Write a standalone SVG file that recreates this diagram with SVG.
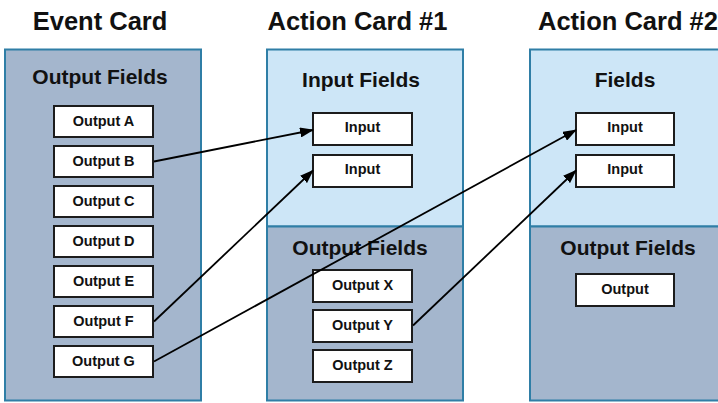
<svg xmlns="http://www.w3.org/2000/svg" width="718" height="403" viewBox="0 0 718 403">
<style>
.title{font-family:"Liberation Sans",Arial,sans-serif;font-weight:bold;font-size:25.5px;fill:#111;text-anchor:middle}
.head{font-family:"Liberation Sans",Arial,sans-serif;font-weight:bold;font-size:21px;fill:#111;text-anchor:middle}
.lbl{font-family:"Liberation Sans",Arial,sans-serif;font-weight:bold;font-size:14.5px;fill:#111;text-anchor:middle}
.dark{fill:#a4b6cd;stroke:#2f7ea6;stroke-width:2}
.light{fill:#cde6f7;stroke:#2f7ea6;stroke-width:2}
.box{fill:#fff;stroke:#1c1c1c;stroke-width:2}
.conn{fill:none;stroke:#000;stroke-width:1.8}
</style>
<defs>
<marker id="arr" markerWidth="14" markerHeight="10" refX="13" refY="5" orient="auto" markerUnits="userSpaceOnUse">
<path d="M0,0 L14,5 L0,10 Z" fill="#000"/>
</marker>
</defs>

<g id="event-card">
<text class="title" x="100" y="30">Event Card</text>
<rect class="dark" x="5" y="49.5" width="196" height="351"/>
<text class="head" x="100" y="84">Output Fields</text>
</g>
<g id="output-a"><rect class="box" x="54" y="106" width="99" height="31"/><text class="lbl" x="103.5" y="126">Output A</text></g>
<g id="output-b"><rect class="box" x="54" y="146" width="99" height="31"/><text class="lbl" x="103.5" y="166">Output B</text></g>
<g id="output-c"><rect class="box" x="54" y="186" width="99" height="31"/><text class="lbl" x="103.5" y="206">Output C</text></g>
<g id="output-d"><rect class="box" x="54" y="226" width="99" height="31"/><text class="lbl" x="103.5" y="246">Output D</text></g>
<g id="output-e"><rect class="box" x="54" y="266" width="99" height="31"/><text class="lbl" x="103.5" y="286">Output E</text></g>
<g id="output-f"><rect class="box" x="54" y="306" width="99" height="31"/><text class="lbl" x="103.5" y="326">Output F</text></g>
<g id="output-g"><rect class="box" x="54" y="346" width="99" height="31"/><text class="lbl" x="103.5" y="366">Output G</text></g>

<g id="action-card-1">
<text class="title" x="357.5" y="30">Action Card #1</text>
<rect class="light" x="267" y="49.5" width="196" height="177"/>
<rect class="dark" x="267" y="226.5" width="196" height="174"/>
<text class="head" x="361" y="87">Input Fields</text>
<text class="head" x="360" y="255">Output Fields</text>
</g>
<g id="a1-input-1"><rect class="box" x="313" y="113" width="99" height="32"/><text class="lbl" x="362.5" y="132">Input</text></g>
<g id="a1-input-2"><rect class="box" x="313" y="155" width="99" height="32"/><text class="lbl" x="362.5" y="174">Input</text></g>
<g id="output-x"><rect class="box" x="313" y="270" width="99" height="32"/><text class="lbl" x="362.5" y="290">Output X</text></g>
<g id="output-y"><rect class="box" x="313" y="310" width="99" height="32"/><text class="lbl" x="362.5" y="330">Output Y</text></g>
<g id="output-z"><rect class="box" x="313" y="350" width="99" height="32"/><text class="lbl" x="362.5" y="370">Output Z</text></g>

<g id="action-card-2">
<text class="title" x="628" y="30">Action Card #2</text>
<rect class="light" x="530" y="49.5" width="200" height="177"/>
<rect class="dark" x="530" y="226.5" width="200" height="174"/>
<text class="head" x="625" y="87">Fields</text>
<text class="head" x="628" y="255">Output Fields</text>
</g>
<g id="a2-input-1"><rect class="box" x="576" y="113" width="98" height="32"/><text class="lbl" x="625" y="132">Input</text></g>
<g id="a2-input-2"><rect class="box" x="576" y="155" width="98" height="32"/><text class="lbl" x="625" y="174">Input</text></g>
<g id="a2-output"><rect class="box" x="576" y="274" width="98" height="32"/><text class="lbl" x="625" y="294">Output</text></g>

<g id="connectors">
<line class="conn" x1="154" y1="161.5" x2="313" y2="130" marker-end="url(#arr)"/>
<line class="conn" x1="154" y1="321.5" x2="313" y2="170.5" marker-end="url(#arr)"/>
<line class="conn" x1="154" y1="361.5" x2="576" y2="130" marker-end="url(#arr)"/>
<line class="conn" x1="413" y1="325.5" x2="576" y2="170.5" marker-end="url(#arr)"/>
</g>
</svg>
